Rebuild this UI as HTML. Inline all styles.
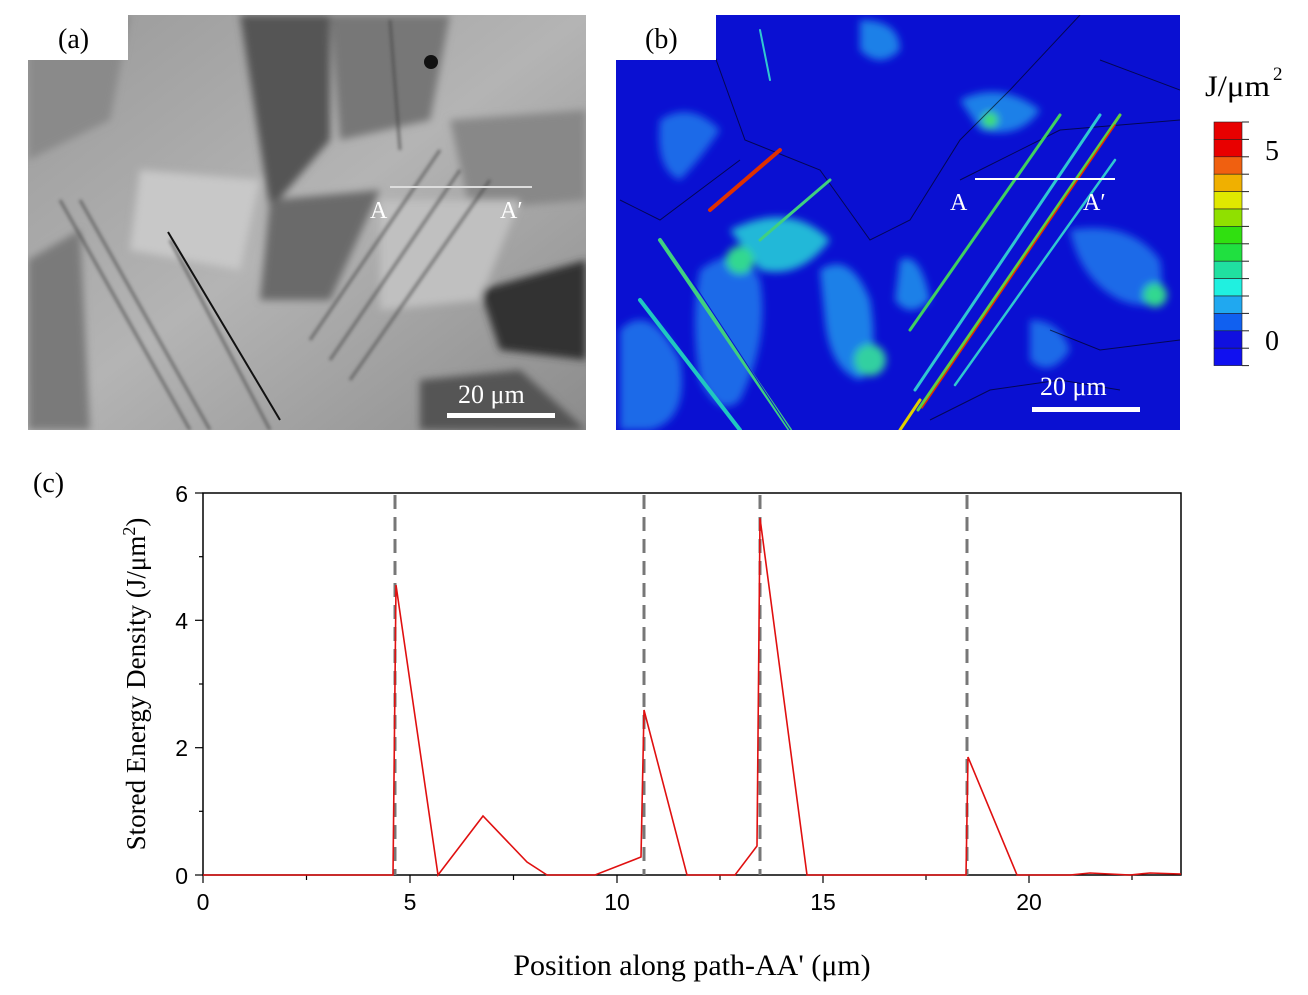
<!DOCTYPE html>
<html><head><meta charset="utf-8"><style>
body{margin:0;background:#fff;width:1308px;height:990px;overflow:hidden}
text{font-family:"Liberation Serif",serif}
.s{font-family:"Liberation Sans",sans-serif}
</style></head><body>
<svg width="1308" height="990" viewBox="0 0 1308 990" xmlns="http://www.w3.org/2000/svg">
<defs>
<linearGradient id="ga" x1="0" y1="0" x2="1" y2="1">
<stop offset="0" stop-color="#9a9a9a"/><stop offset="0.5" stop-color="#b4b4b4"/><stop offset="1" stop-color="#8c8c8c"/>
</linearGradient>
<filter id="bl"><feGaussianBlur stdDeviation="4"/></filter>
<filter id="bl2"><feGaussianBlur stdDeviation="1.5"/></filter>
<clipPath id="ca"><rect x="28" y="15" width="558" height="415"/></clipPath>
<clipPath id="cb"><rect x="616" y="15" width="564" height="415"/></clipPath>
</defs>
<!-- Panel a -->
<g clip-path="url(#ca)">
<rect x="28" y="15" width="558" height="415" fill="url(#ga)"/>
<g filter="url(#bl)">
<polygon points="240,15 330,15 330,140 270,210" fill="#555"/>
<polygon points="330,15 450,15 430,120 340,140" fill="#777"/>
<polygon points="28,15 130,15 110,120 28,160" fill="#8a8a8a"/>
<polygon points="270,200 380,190 330,300 260,300" fill="#6a6a6a"/>
<polygon points="480,290 586,260 586,360 500,350" fill="#333"/>
<polygon points="420,380 520,370 586,430 420,430" fill="#555"/>
<polygon points="28,260 80,230 90,430 28,430" fill="#7a7a7a"/>
<polygon points="450,120 586,110 586,200 470,210" fill="#888"/>
<polygon points="140,170 260,180 240,270 130,250" fill="#c8c8c8"/>
<polygon points="380,200 520,200 480,300 380,310" fill="#c0c0c0"/>
</g>
<g stroke="#444" stroke-width="3" opacity="0.6" filter="url(#bl2)">
<line x1="60" y1="200" x2="190" y2="430"/><line x1="80" y1="200" x2="210" y2="430"/>
<line x1="170" y1="240" x2="270" y2="430"/>
<line x1="310" y1="340" x2="440" y2="150"/><line x1="330" y1="360" x2="460" y2="170"/>
<line x1="350" y1="380" x2="490" y2="180"/><line x1="390" y1="20" x2="400" y2="150"/>
</g>
<line x1="168" y1="232" x2="280" y2="420" stroke="#111" stroke-width="2"/>
<circle cx="431" cy="62" r="7" fill="#111"/>
<line x1="390" y1="187" x2="532" y2="187" stroke="#ddd" stroke-width="2"/>
<text x="370" y="218" font-size="24" fill="#fff">A</text>
<text x="500" y="218" font-size="24" fill="#fff">A′</text>
<text x="458" y="403" font-size="26" fill="#fff">20 μm</text>
<rect x="447" y="413" width="108" height="5" fill="#fff"/>
</g>
<rect x="28" y="15" width="100" height="45" fill="#fff"/>
<text x="58" y="48" font-size="28">(a)</text>
<!-- Panel b -->
<g clip-path="url(#cb)">
<rect x="616" y="15" width="564" height="415" fill="#0a10d2"/>
<g filter="url(#bl)">
<path d="M660,120 Q690,100 720,130 Q700,160 680,180 Q655,170 660,120Z" fill="#1e6ae8"/>
<path d="M700,270 Q740,240 760,280 Q770,340 740,400 Q720,420 700,380 Q690,320 700,270Z" fill="#1e6ae8"/>
<path d="M730,230 Q790,200 830,240 Q800,280 760,270Z" fill="#20b8d8"/>
<circle cx="740" cy="260" r="14" fill="#30d890"/>
<path d="M820,270 Q850,250 870,300 Q880,360 860,380 Q830,370 825,320Z" fill="#1e80e8"/>
<circle cx="870" cy="360" r="16" fill="#30d0a0"/>
<path d="M620,330 Q650,300 680,360 Q690,420 650,430 L620,430Z" fill="#1e6ae8"/>
<path d="M1070,230 Q1130,220 1160,260 Q1170,320 1120,300 Q1080,280 1070,230Z" fill="#1e6ae8"/>
<circle cx="1155" cy="295" r="12" fill="#30d890"/>
<path d="M960,100 Q1000,80 1040,110 Q1020,140 980,130Z" fill="#1e80e8"/>
<circle cx="990" cy="120" r="8" fill="#40e070"/>
<path d="M860,20 Q900,20 900,50 Q880,70 860,50Z" fill="#1e80e8"/>
<path d="M1030,320 Q1060,320 1070,350 Q1050,380 1030,360Z" fill="#1e6ae8"/>
<path d="M900,260 Q920,250 930,300 Q910,320 895,300Z" fill="#1e80e8"/>
</g>
<g stroke="#000" stroke-width="1" fill="none" opacity="0.6">
<polyline points="700,15 745,140 820,170 870,240 910,220 960,140 1010,90 1080,15"/>
<polyline points="620,200 660,220 700,190 740,160"/>
<polyline points="960,180 1060,130 1180,120"/>
<polyline points="1050,330 1100,350 1180,340"/>
<polyline points="930,420 990,390 1060,380 1120,390"/>
<polyline points="1100,60 1180,90"/>
</g>
<g stroke-linecap="round">
<line x1="640" y1="300" x2="740" y2="430" stroke="#20c8c0" stroke-width="4"/>
<line x1="660" y1="240" x2="790" y2="430" stroke="#40d080" stroke-width="4"/>
<line x1="665" y1="240" x2="790" y2="430" stroke="#0a10d2" stroke-width="1"/>
<line x1="710" y1="210" x2="780" y2="150" stroke="#e03000" stroke-width="4"/>
<line x1="760" y1="240" x2="830" y2="180" stroke="#40d080" stroke-width="3"/>
<line x1="910" y1="330" x2="1060" y2="115" stroke="#40d060" stroke-width="3"/>
<line x1="915" y1="390" x2="1100" y2="115" stroke="#30c8d0" stroke-width="3"/>
<line x1="918" y1="410" x2="1120" y2="115" stroke="#60d040" stroke-width="3"/>
<line x1="922" y1="408" x2="1115" y2="125" stroke="#e03000" stroke-width="1.5"/>
<line x1="955" y1="385" x2="1115" y2="160" stroke="#30c8d0" stroke-width="2.5"/>
<line x1="900" y1="430" x2="920" y2="400" stroke="#e0d000" stroke-width="3"/>
<line x1="760" y1="30" x2="770" y2="80" stroke="#30c8d0" stroke-width="2"/>
</g>
<line x1="975" y1="179" x2="1115" y2="179" stroke="#fff" stroke-width="2"/>
<text x="950" y="210" font-size="24" fill="#fff">A</text>
<text x="1083" y="210" font-size="24" fill="#fff">A′</text>
<text x="1040" y="395" font-size="26" fill="#fff">20 μm</text>
<rect x="1032" y="407" width="108" height="5" fill="#fff"/>
</g>
<rect x="616" y="15" width="100" height="45" fill="#fff"/>
<text x="645" y="48" font-size="28">(b)</text>
<!-- colorbar -->
<text x="1205" y="96" font-size="30" textLength="65" lengthAdjust="spacingAndGlyphs">J/μm</text><text x="1273" y="80" font-size="19">2</text>
<g stroke="#222" stroke-width="0.6">
<rect x="1214" y="122" width="28" height="17.4" fill="#e80000"/>
<rect x="1214" y="139.4" width="28" height="17.4" fill="#e80000"/>
<rect x="1214" y="156.8" width="28" height="17.4" fill="#f06010"/>
<rect x="1214" y="174.2" width="28" height="17.4" fill="#f0b000"/>
<rect x="1214" y="191.6" width="28" height="17.4" fill="#e0e800"/>
<rect x="1214" y="209" width="28" height="17.4" fill="#90e000"/>
<rect x="1214" y="226.4" width="28" height="17.4" fill="#30e010"/>
<rect x="1214" y="243.8" width="28" height="17.4" fill="#20e040"/>
<rect x="1214" y="261.2" width="28" height="17.4" fill="#20e0a0"/>
<rect x="1214" y="278.6" width="28" height="17.4" fill="#20f0e0"/>
<rect x="1214" y="296" width="28" height="17.4" fill="#20a8f0"/>
<rect x="1214" y="313.4" width="28" height="17.4" fill="#1060f0"/>
<rect x="1214" y="330.8" width="28" height="17.4" fill="#1010e0"/>
<rect x="1214" y="348.2" width="28" height="17.4" fill="#1010f0"/>
</g>
<g stroke="#222" stroke-width="1">
<line x1="1242" y1="122" x2="1249" y2="122"/><line x1="1242" y1="139.4" x2="1249" y2="139.4"/><line x1="1242" y1="156.8" x2="1249" y2="156.8"/><line x1="1242" y1="174.2" x2="1249" y2="174.2"/><line x1="1242" y1="191.6" x2="1249" y2="191.6"/><line x1="1242" y1="209" x2="1249" y2="209"/><line x1="1242" y1="226.4" x2="1249" y2="226.4"/><line x1="1242" y1="243.8" x2="1249" y2="243.8"/><line x1="1242" y1="261.2" x2="1249" y2="261.2"/><line x1="1242" y1="278.6" x2="1249" y2="278.6"/><line x1="1242" y1="296" x2="1249" y2="296"/><line x1="1242" y1="313.4" x2="1249" y2="313.4"/><line x1="1242" y1="330.8" x2="1249" y2="330.8"/><line x1="1242" y1="348.2" x2="1249" y2="348.2"/><line x1="1242" y1="365.6" x2="1249" y2="365.6"/>
</g>
<text x="1265" y="160" font-size="28">5</text>
<text x="1265" y="350" font-size="28">0</text>
<!-- Panel c -->
<text x="33" y="492" font-size="28">(c)</text>
<rect x="203" y="493" width="978" height="382" fill="none" stroke="#000" stroke-width="1.5"/>
<g stroke="#000" stroke-width="1.2">
<line x1="203" y1="875" x2="203" y2="883"/><line x1="410" y1="875" x2="410" y2="883"/><line x1="617" y1="875" x2="617" y2="883"/><line x1="823" y1="875" x2="823" y2="883"/><line x1="1029" y1="875" x2="1029" y2="883"/>
<line x1="306.5" y1="875" x2="306.5" y2="880"/><line x1="513.5" y1="875" x2="513.5" y2="880"/><line x1="720" y1="875" x2="720" y2="880"/><line x1="926" y1="875" x2="926" y2="880"/><line x1="1132" y1="875" x2="1132" y2="880"/>
<line x1="195" y1="875" x2="203" y2="875"/><line x1="195" y1="747.7" x2="203" y2="747.7"/><line x1="195" y1="620.3" x2="203" y2="620.3"/><line x1="195" y1="493" x2="203" y2="493"/>
<line x1="199" y1="811.3" x2="203" y2="811.3"/><line x1="199" y1="684" x2="203" y2="684"/><line x1="199" y1="556.7" x2="203" y2="556.7"/>
</g>
<g font-size="23" text-anchor="middle">
<text x="203" y="910" class="s">0</text><text x="410" y="910" class="s">5</text><text x="617" y="910" class="s">10</text><text x="823" y="910" class="s">15</text><text x="1029" y="910" class="s">20</text>
</g>
<g font-size="23" text-anchor="end">
<text x="188" y="884" class="s">0</text><text x="188" y="756" class="s">2</text><text x="188" y="629" class="s">4</text><text x="188" y="502" class="s">6</text>
</g>
<text x="692" y="975" font-size="30" text-anchor="middle">Position along path-AA' (μm)</text>
<text transform="translate(145,684) rotate(-90)" font-size="27" text-anchor="middle">Stored Energy Density  (J/μm<tspan font-size="18" dy="-10">2</tspan><tspan dy="10">)</tspan></text>
<g stroke="#777" stroke-width="3" stroke-dasharray="14,8">
<line x1="395" y1="495" x2="395" y2="875"/><line x1="644" y1="495" x2="644" y2="875"/><line x1="760" y1="495" x2="760" y2="875"/><line x1="967" y1="495" x2="967" y2="875"/>
</g>
<polyline fill="none" stroke="#e01010" stroke-width="1.6" points="203,875 393,875 396,585 438,875 483,816 527,862 547,875 595,875 641,857 644,710 687,875 735,875 757,846 760,518 807,875 966,875 968,757 1017,875 1070,875 1090,873 1130,875 1150,873 1181,874"/>
</svg>
</body></html>
